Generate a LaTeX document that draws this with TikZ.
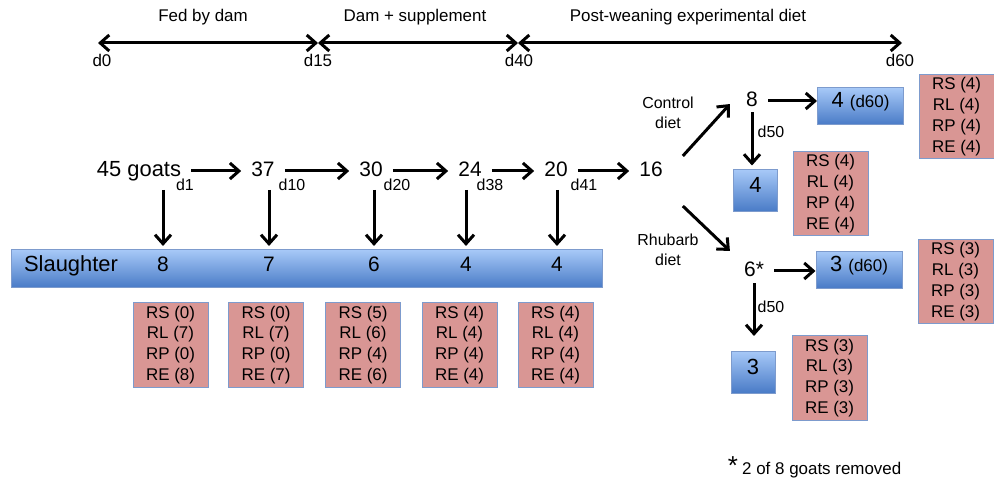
\documentclass[tikz,border=0pt]{standalone}
\usepackage{fontspec}
\setmainfont{Liberation Sans}
\usetikzlibrary{arrows.meta,positioning}
\definecolor{pinkfill}{RGB}{217,150,148}
\definecolor{boxedge}{RGB}{125,155,205}
\definecolor{bluetop}{RGB}{166,200,247}
\definecolor{bluebot}{RGB}{72,122,198}
\newcommand{\fs}[1]{\fontsize{#1}{#1}\selectfont}

\begin{document}
\begin{tikzpicture}[x=1bp, y=-1bp,
        arr/.style={-{Straight Barb[length=9bp,width=16bp]}, line width=3bp},
        span/.style={{Straight Barb[length=9bp,width=16bp]}-{Straight Barb[length=9bp,width=16bp]}, line width=3bp},
        phase/.style={font=\fs{17}},
        daylbl/.style={font=\fs{16}, inner sep=1bp},
        count/.style={font=\fs{21}, inner xsep=10bp, text height=13bp, text depth=2bp},
        dietlbl/.style={font=\fontsize{16}{20}\selectfont, align=center},
        organs/.style={rectangle, draw=boxedge, line width=1bp, fill=pinkfill, minimum width=75bp, minimum height=84bp, inner sep=0pt, align=center, font=\fontsize{17}{21}\selectfont},
        bluebox/.style={rectangle, draw=boxedge, line width=1bp, top color=bluetop, bottom color=bluebot, inner sep=0pt},
        widebox/.style={bluebox, minimum width=86bp, text height=20bp, text depth=17bp, font=\fs{22}},
        squarebox/.style={bluebox, minimum width=44bp, text height=23bp, text depth=19bp, font=\fs{22}}
    ]
        \useasboundingbox (0,0) rectangle (994,483);

        % Timeline of feeding phases
        \coordinate (t0) at (98,43);
        \coordinate (t15) at (318,43);
        \coordinate (t40) at (518,43);
        \coordinate (t60) at (902,43);
        \draw[span] (t0) -- (t15);
        \draw[span] (t15) -- (t40);
        \draw[span] (t40) -- (t60);
        \node[phase] (fed) at (203,17) {Fed by dam};
        \node[phase] (supp) at (415,17) {Dam + supplement};
        \node[phase] (post) at (688,17) {Post-weaning experimental diet};
        \node[phase] (lbl0) at (102,60) {d0};
        \node[phase] (lbl15) at (318,60) {d15};
        \node[phase] (lbl40) at (519,60) {d40};
        \node[phase] (lbl60) at (900,60) {d60};

        % Goats remaining
        \node[count, font=\fs{22}] (goats45) at (139,171) {45 goats};
        \node[count] (n37) at (263,171) {37};
        \node[count] (n30) at (371,171) {30};
        \node[count] (n24) at (470,171) {24};
        \node[count] (n20) at (556,171) {20};
        \node[count] (n16) at (651,171) {16};
        \draw[arr] (goats45) -- (n37);
        \draw[arr] (n37) -- (n30);
        \draw[arr] (n30) -- (n24);
        \draw[arr] (n24) -- (n20);
        \draw[arr] (n20) -- (n16);
        \node[daylbl] at (185,185) {d1};
        \node[daylbl] at (292,185) {d10};
        \node[daylbl] at (397,185) {d20};
        \node[daylbl] at (490,185) {d38};
        \node[daylbl] at (584,185) {d41};

        % Slaughter bar
        \node[bluebox, minimum width=590bp, minimum height=38bp] (bar) at (307,269) {};
        \node[font=\fs{22}] (slaughter) at (71,266) {Slaughter};
        \foreach \i/\x/\n/\bx/\a/\b/\c/\d in {1/163/8/170.5/0/7/0/8, 2/269/7/266/0/7/0/7, 3/374/6/363/5/6/4/6, 4/466/4/459.5/4/4/4/4, 5/557/4/555.5/4/4/4/4} {
            \coordinate (drop\i) at (\x,190);
            \node[count] (kill\i) at (\x,266) {\n};
            \draw[arr, shorten >=9bp] (drop\i) -- (kill\i);
            \node[organs] (org\i) at (\bx,345) {RS (\a)\\RL (\b)\\RP (\c)\\RE (\d)};
        }

        % Control diet branch
        \node[dietlbl] (control) at (668,113) {Control\\diet};
        \node[count] (c8) at (752,101) {8};
        \node[widebox] (c60) at (860.5,106.5) {4 {\fs{17}(d60)}};
        \node[squarebox] (c50) at (755.5,191) {4};
        \node[organs] (orgc60) at (956.5,117) {RS (4)\\RL (4)\\RP (4)\\RE (4)};
        \node[organs] (orgc50) at (830.5,193.5) {RS (4)\\RL (4)\\RP (4)\\RE (4)};
        \node[daylbl] at (771,132) {d50};
        \draw[arr] ([xshift=10bp,yshift=4bp]n16.north east) -- ([xshift=-6bp,yshift=8bp]c8.south west);
        \draw[arr] (c8) -- (c8 -| c60.west);
        \draw[arr, shorten >=4bp] (c8.south) -- (c8.south |- c50.north);

        % Rhubarb diet branch
        \node[dietlbl] (rhubarb) at (668,250) {Rhubarb\\diet};
        \node[count] (r6) at (754,271) {6*};
        \node[widebox] (r60) at (859,270) {3 {\fs{17}(d60)}};
        \node[squarebox] (r50) at (753,372.5) {3};
        \node[organs] (orgr60) at (955.5,281.5) {RS (3)\\RL (3)\\RP (3)\\RE (3)};
        \node[organs] (orgr50) at (829.5,378) {RS (3)\\RL (3)\\RP (3)\\RE (3)};
        \node[daylbl] at (771,307) {d50};
        \draw[arr] ([xshift=10bp,yshift=-24bp]n16.south east) -- ([xshift=-4bp,yshift=9bp]r6.north west);
        \draw[arr] (r6) -- (r6 -| r60.west);
        \draw[arr, shorten <=1bp, shorten >=15bp] (r6.south) -- (r6.south |- r50.north);

        % Footnote
        \node[font=\fs{26}, anchor=base, inner sep=0pt] (star) at (733,474) {*};
        \node[font=\fs{17}, anchor=base west, inner sep=0pt] (note) at (742,474) {2 of 8 goats removed};
    \end{tikzpicture}
\end{document}
